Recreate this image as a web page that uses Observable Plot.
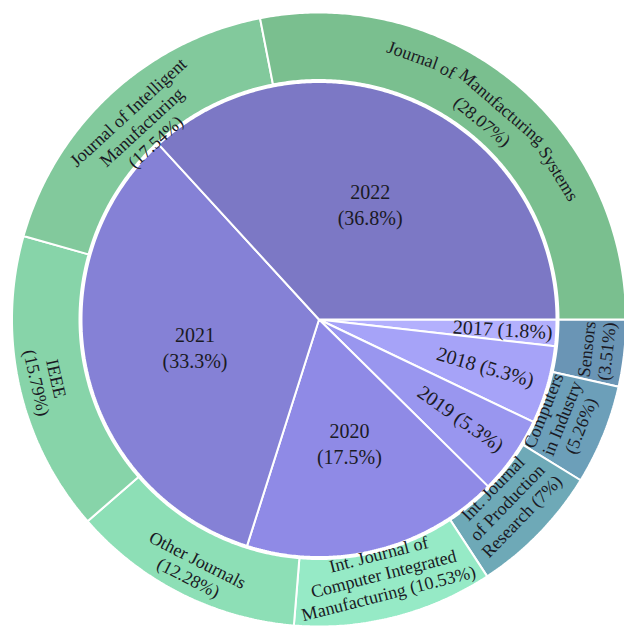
<!DOCTYPE html>
<html><head><meta charset="utf-8">
<script src="https://cdn.jsdelivr.net/npm/d3@7"></script>
<script src="https://cdn.jsdelivr.net/npm/@observablehq/plot@0.6"></script>
<style>html,body{margin:0;padding:0;background:#fff;overflow:hidden}</style>
</head><body><div id="chart"></div>
<script>
// ---- data ----
const years = ["2017", "2018", "2019", "2020", "2021", "2022"];
const yearShares = [1.8, 5.3, 5.3, 17.5, 33.3, 36.8];
const journals = ["Sensors", "Computers in Industry", "Int. Journal of Production Research",
  "Int. Journal of Computer Integrated Manufacturing", "Other Journals", "IEEE",
  "Journal of Intelligent Manufacturing", "Journal of Manufacturing Systems"];
const journalShares = [3.51, 5.26, 7, 10.53, 12.28, 15.79, 17.54, 28.07];
const journalLabels = ["Sensors\n(3.51%)", "Computers\nin Industry\n(5.26%)",
  "Int. Journal\nof Production\nResearch (7%)",
  "Int. Journal of\nComputer Integrated\nManufacturing (10.53%)",
  "Other Journals\n(12.28%)", "IEEE\n(15.79%)",
  "Journal of Intelligent\nManufacturing\n(17.54%)",
  "Journal of Manufacturing Systems\n(28.07%)"];
// ---- styles ----
const yearColors = ["#b3b0fd", "#a6a3f8", "#9996ef", "#8f8ae6", "#8581d6", "#7c78c5"];
const journalColors = ["#6a95b5", "#6c9fb9", "#6ea9b7", "#96eac6", "#8ddfb6", "#87d4a9", "#82c99c", "#7abf8f"];

const W = 624, H = 626, CX = 318.5, CY = 319;
const R_PIE = 237.5, R_IN = 239.5, R_OUT = 307;
const FONT = "'Liberation Serif', 'Times New Roman', serif";
const INNER_FS = 20, OUTER_FS = 18;

const pie = d3.pie().sort(null).value(d => d.value)
  .startAngle(Math.PI / 2).endAngle(Math.PI / 2 + 2 * Math.PI);
const yearArcs = pie(years.map((name, i) => ({name, value: yearShares[i]})));
const journalArcs = pie(journals.map((name, i) => ({name, value: journalShares[i], label: journalLabels[i]})));

const pt = (r, a) => [r * Math.sin(a), -r * Math.cos(a)];
function polygon(arc, r0, r1) {
  const pts = [];
  const n = Math.max(2, Math.ceil((arc.endAngle - arc.startAngle) * 180 / Math.PI * 2));
  for (let k = 0; k <= n; k++) {
    const a = arc.startAngle + (arc.endAngle - arc.startAngle) * k / n;
    const [x, y] = pt(r1, a); pts.push({id: arc.data.name, x, y});
  }
  if (r0 === 0) { pts.push({id: arc.data.name, x: 0, y: 0}); }
  else for (let k = n; k >= 0; k--) {
    const a = arc.startAngle + (arc.endAngle - arc.startAngle) * k / n;
    const [x, y] = pt(r0, a); pts.push({id: arc.data.name, x, y});
  }
  return pts;
}
const shapes = [
  ...yearArcs.flatMap(a => polygon(a, 0, R_PIE)),
  ...journalArcs.flatMap(a => polygon(a, R_IN, R_OUT))
];

const deg = a => a * 180 / Math.PI;
// inner labels
const innerBig = [], innerSmall = [];
for (const a of yearArcs) {
  const mid = (a.startAngle + a.endAngle) / 2;
  if (a.data.value >= 10) {
    const [x, y] = pt(127, mid);
    innerBig.push({x, y, text: `${a.data.name}\n(${a.data.value}%)`});
  } else {
    const [x, y] = pt(a.data.value < 3 ? 234 : 223, mid);
    innerSmall.push({x, y, text: `${a.data.name} (${a.data.value}%)`, rotate: deg(mid) - 90});
  }
}
// outer labels
const ctx = document.createElement("canvas").getContext("2d");
ctx.font = `${OUTER_FS}px ${FONT}`;
const outerLabels = [];
for (const a of journalArcs) {
  const mid = (a.startAngle + a.endAngle) / 2;
  const theta = (deg(mid) - 90 + 360) % 360;
  const rot = theta < 180 ? theta - 90 : theta - 270;
  const lines = a.data.label.split("\n");
  if (lines[0].length > 25) {
    // long first line follows the arc, word by word
    const rc = 269, r1 = rc + 12, r2 = rc - 12;
    const words = lines[0].split(" ");
    const sp = ctx.measureText(" ").width;
    const widths = words.map(w => ctx.measureText(w).width);
    const total = d3.sum(widths) + sp * (words.length - 1);
    let off = 0;
    const a0 = mid - total / 2 / r1;
    words.forEach((w, i) => {
      const ang = a0 + (off + widths[i] / 2) / r1;
      const [x, y] = pt(r1, ang);
      outerLabels.push({x, y, text: w, rotate: deg(ang) - 360});
      off += widths[i] + sp;
    });
    const [x, y] = pt(r2, mid);
    outerLabels.push({x, y, text: lines.slice(1).join("\n"), rotate: rot});
  } else {
    const r = lines.length === 2 ? 279 : 262;
    const [x, y] = pt(r, mid);
    outerLabels.push({x, y, text: a.data.label, rotate: rot});
  }
}

const chart = Plot.plot({
  width: W, height: H,
  margin: 0,
  x: {domain: [-CX, W - CX], range: [0, W], axis: null},
  y: {domain: [-CY, H - CY], range: [0, H], axis: null},
  color: {domain: [...years, ...journals], range: [...yearColors, ...journalColors]},
  style: {background: "white"},
  marks: [
    Plot.line(shapes, {x: "x", y: "y", z: "id", fill: "id", stroke: "white", strokeWidth: 2,
      strokeLinejoin: "miter", curve: "linear-closed"}),
    Plot.text(innerBig, {x: "x", y: "y", text: "text", fontSize: INNER_FS, fontFamily: FONT,
      lineHeight: 1.3, fill: "#1a1a24"}),
    Plot.text(innerSmall, {x: "x", y: "y", text: "text", rotate: "rotate", textAnchor: "end",
      fontSize: INNER_FS, fontFamily: FONT, fill: "#1a1a24"}),
    Plot.text(outerLabels, {x: "x", y: "y", text: "text", rotate: "rotate", fontSize: OUTER_FS,
      fontFamily: FONT, lineHeight: 1.12, fill: "#1a1a24"})
  ]
});
document.getElementById("chart").appendChild(chart);
</script>
</body></html>
